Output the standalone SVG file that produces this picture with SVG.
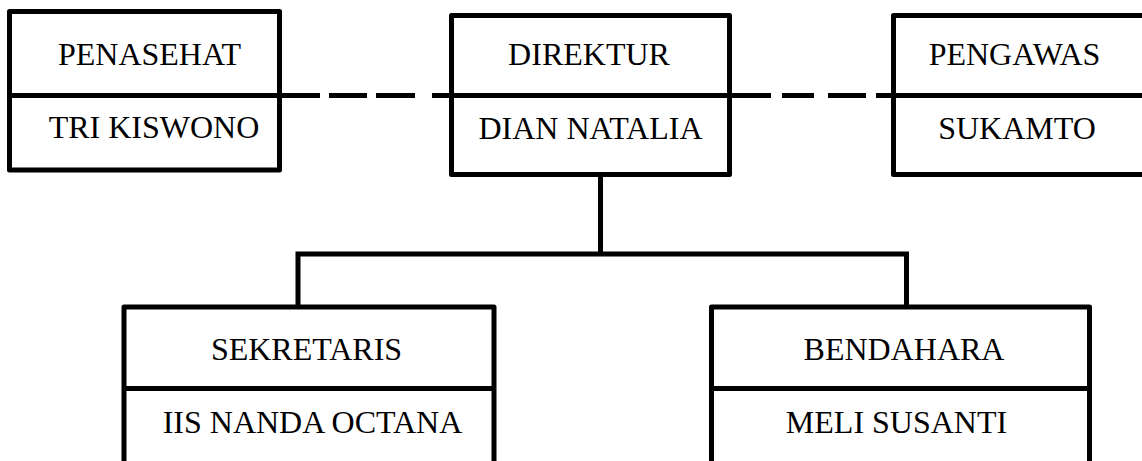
<svg xmlns="http://www.w3.org/2000/svg" width="1142" height="461" viewBox="0 0 1142 461">
  <style>
    .box { fill: #ffffff; stroke: #000000; stroke-width: 5; stroke-linejoin: round; }
    .line { fill: none; stroke: #000000; stroke-width: 5; }
    .label { font-family: "Liberation Serif", "Times New Roman", serif; font-size: 32px; fill: #000000; text-anchor: middle; }
  </style>
  <rect width="1142" height="461" fill="#ffffff"/>

  <!-- connectors -->
  <g id="connectors">
    <!-- dashed advisory line between top row boxes -->
    <path class="line" d="M280 95.5 H320 M329 95.5 H367 M376 95.5 H415 M432 95.5 H452"/>
    <path class="line" d="M729 95.5 H771 M782 95.5 H814 M828 95.5 H866 M876 95.5 H894"/>
    <!-- direktur to staff tree -->
    <path class="line" d="M600.5 174.5 V254"/>
    <path class="line" d="M298 307 V254 H906.5 V307"/>
  </g>

  <g id="penasehat">
    <rect class="box" x="9.5" y="11.5" width="270" height="158.5"/>
    <path class="line" d="M9.5 95.5 H279.5"/>
    <text class="label" x="149.5" y="65">PENASEHAT</text>
    <text class="label" x="154" y="138">TRI KISWONO</text>
  </g>

  <g id="direktur">
    <rect class="box" x="451.5" y="15.5" width="278" height="159"/>
    <path class="line" d="M451.5 95.5 H729.5"/>
    <text class="label" x="589" y="65">DIREKTUR</text>
    <text class="label" x="590.5" y="139">DIAN NATALIA</text>
  </g>

  <g id="pengawas">
    <rect class="box" x="893.5" y="15.5" width="253" height="159"/>
    <path class="line" d="M893.5 95.5 H1146"/>
    <text class="label" x="1014.5" y="65">PENGAWAS</text>
    <text class="label" x="1017" y="139">SUKAMTO</text>
  </g>

  <g id="sekretaris">
    <rect class="box" x="124" y="307" width="370" height="170"/>
    <path class="line" d="M124 388.5 H494"/>
    <text class="label" x="306.5" y="360">SEKRETARIS</text>
    <text class="label" x="312.5" y="433">IIS NANDA OCTANA</text>
  </g>

  <g id="bendahara">
    <rect class="box" x="711.5" y="307" width="378" height="170"/>
    <path class="line" d="M711.5 388.5 H1089.5"/>
    <text class="label" x="904" y="360">BENDAHARA</text>
    <text class="label" x="896.5" y="433">MELI SUSANTI</text>
  </g>
</svg>
